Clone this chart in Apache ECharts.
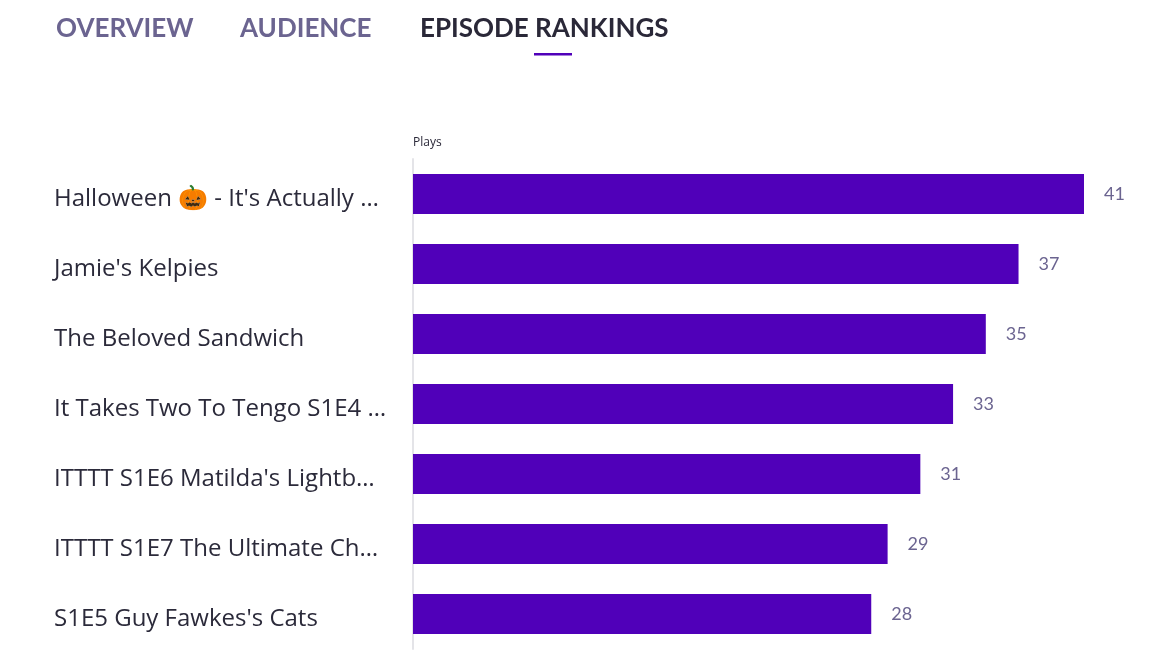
<!DOCTYPE html>
<html>
<head>
<meta charset="utf-8">
<script src="https://cdn.jsdelivr.net/npm/echarts@6/dist/echarts.min.js"></script>
<style>
html,body{margin:0;padding:0;background:#fff;}
#chart{width:1172px;height:660px;}
</style>
</head>
<body>
<div id="chart"></div>
<script>
const tabs = ["OVERVIEW", "AUDIENCE", "EPISODE RANKINGS"];
const axisTitle = "Plays";
const episodes = [
  "Halloween 🎃 - It's Actually …",
  "Jamie's Kelpies",
  "The Beloved Sandwich",
  "It Takes Two To Tengo S1E4 …",
  "ITTTT S1E6 Matilda's Lightb…",
  "ITTTT S1E7 The Ultimate Ch…",
  "S1E5 Guy Fawkes's Cats"
];
const plays = [41, 37, 35, 33, 31, 29, 28];

const FONT = "'Open Sans', Lato, sans-serif";
const TABFONT = "bold 26px Lato, 'Open Sans', sans-serif";
const chart = echarts.init(document.getElementById('chart'), null, {renderer: 'canvas'});
chart.setOption({
  backgroundColor: '#ffffff',
  animation: false,
  graphic: [
    {type: 'text', x: 56, y: 29, style: {text: tabs[0], fill: '#6b6490', font: TABFONT, verticalAlign: 'middle'}},
    {type: 'text', x: 240, y: 29, style: {text: tabs[1], fill: '#6b6490', font: TABFONT, verticalAlign: 'middle'}},
    {type: 'text', x: 420, y: 29, style: {text: tabs[2], fill: '#2a2838', font: TABFONT, verticalAlign: 'middle'}},
    {type: 'rect', x: 534, y: 53, shape: {width: 38, height: 2.5}, style: {fill: '#5000b9'}},
    {type: 'text', x: 413, y: 143, style: {text: axisTitle, fill: '#2a2838', font: '12px ' + FONT, verticalAlign: 'middle'}}
  ],
  grid: {left: 413, right: 88, top: 159, bottom: 11, containLabel: false},
  xAxis: {
    type: 'value', min: 0, max: 41, show: false
  },
  yAxis: {
    type: 'category', data: episodes, inverse: true,
    axisLine: {show: true, lineStyle: {color: '#e4e4e8', width: 2}},
    axisTick: {show: false},
    axisLabel: {
      align: 'left', margin: 359,
      formatter: function (v) { return '{t|' + v + '}'; },
      rich: {
        t: {color: '#2b2a3a', fontSize: 24, fontFamily: FONT, padding: [11, 0, 0, 0]}
      }
    }
  },
  series: [{
    type: 'bar', data: plays, barWidth: 40,
    itemStyle: {color: '#5000b9'},
    label: {show: true, position: 'right', distance: 20, color: '#6b6490', fontSize: 18, fontFamily: "Lato, sans-serif"}
  }]
});
</script>
</body>
</html>
